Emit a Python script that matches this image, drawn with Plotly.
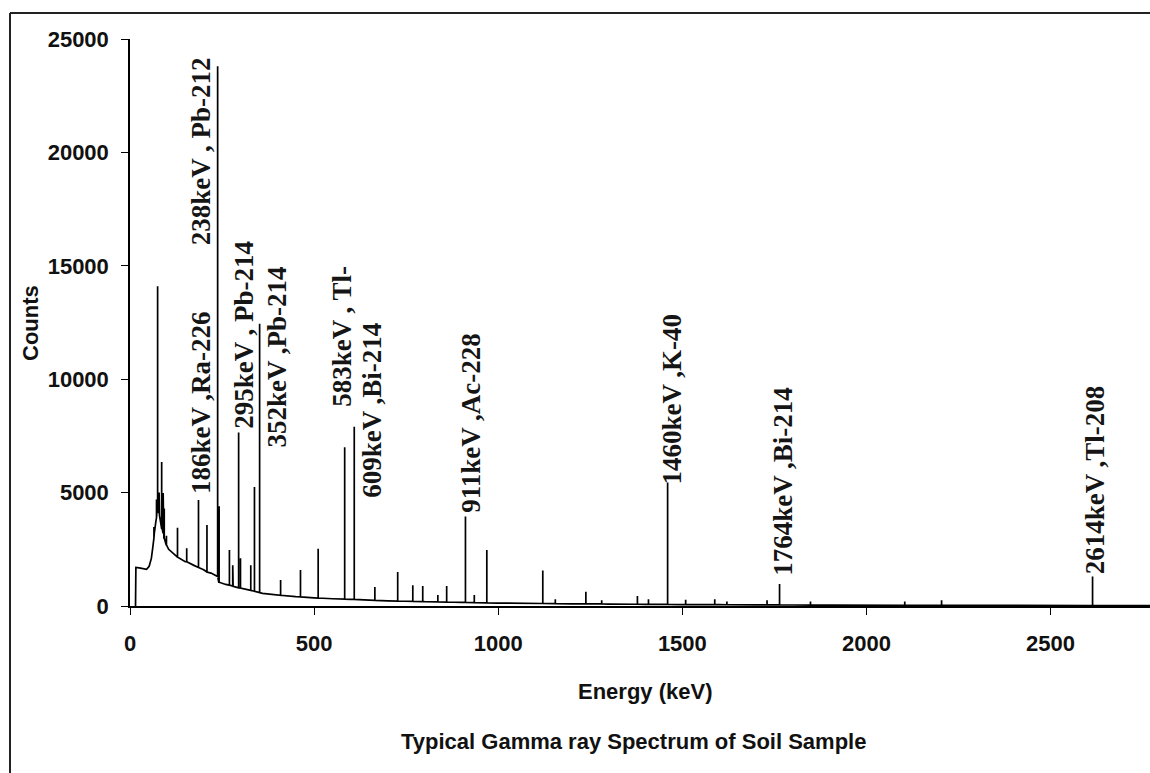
import plotly.graph_objects as go

# ---------------- data ----------------
# smooth continuum of the spectrum (energy keV, counts)
cont_energy = [15, 16, 25, 35, 45, 52, 58, 62, 66, 70, 74, 80, 86, 92, 98, 105, 115, 130,
               150, 175, 200, 220, 236, 241, 260, 280, 300, 325, 350, 360, 400, 450, 500,
               550, 600, 650, 700, 800, 900, 1000, 1100, 1200, 1300, 1400, 1500, 1600,
               1700, 1800, 1900, 2000, 2200, 2400, 2600, 2770]
cont_counts = [0, 1700, 1680, 1650, 1620, 1750, 2100, 2600, 3200, 3700, 4300, 4000, 3400,
               3000, 2700, 2500, 2350, 2150, 1950, 1780, 1600, 1450, 1300, 1050, 950, 870,
               790, 700, 600, 560, 480, 410, 360, 320, 290, 260, 230, 190, 160, 130, 110,
               95, 85, 75, 65, 57, 50, 44, 40, 36, 30, 25, 20, 15]

# peaks: energy (keV), top counts, counts of the continuum under the peak
peak_energy = [65, 72, 75, 79, 86, 90, 93, 99, 129, 154, 186, 209, 238, 242, 270, 279,
               295, 300, 328, 338, 352, 409, 463, 511, 583, 609, 665, 727, 768, 795, 836,
               860, 911, 935, 969, 1121, 1155, 1238, 1281, 1378, 1408, 1460, 1509, 1588,
               1621, 1730, 1764, 1848, 2104, 2204, 2614]
peak_top = [3480, 4700, 14100, 5000, 6350, 4980, 4300, 3100, 3450, 2550, 4670, 3570, 23800,
            4400, 2470, 1800, 7650, 2100, 1800, 5250, 12450, 1150, 1590, 2520, 7000, 7900,
            840, 1500, 920, 880, 480, 880, 3950, 480, 2470, 1560, 300, 630, 250, 440, 300,
            5450, 280, 300, 200, 250, 970, 200, 200, 250, 1300]
peak_base = [3000, 3900, 4200, 4100, 3500, 3200, 3000, 2700, 2150, 1950, 1700, 1500, 1300,
             1050, 920, 880, 800, 790, 690, 650, 590, 470, 400, 350, 300, 290, 250, 220,
             200, 195, 180, 175, 160, 150, 140, 110, 105, 95, 90, 77, 74, 70, 64, 58, 55,
             48, 46, 42, 33, 30, 20]

# peak labels
label_text = ["238keV , Pb-212", "186keV ,Ra-226", "295keV , Pb-214", "352keV ,Pb-214",
              "583keV , Tl-", "609keV ,Bi-214", "911keV ,Ac-228", "1460keV ,K-40",
              "1764keV ,Bi-214", "2614keV ,Tl-208"]
# label centre positions (energy keV, counts)
label_x = [193, 193, 309, 399, 575, 657, 926, 1471, 1773, 2619]
label_y = [20050, 8950, 11950, 11000, 11900, 8650, 8080, 9130, 5520, 5560]

x_ticks = [0, 500, 1000, 1500, 2000, 2500]
y_ticks = [0, 5000, 10000, 15000, 20000, 25000]
y_tick_text = ["0", "5000", "10000", "15000", "20000", "25000"]

# ---------------- build the line ----------------
pts = []
for e, c in zip(cont_energy, cont_counts):
    pts.append((e, 0, 0, c))
for i, (e, t, b) in enumerate(zip(peak_energy, peak_top, peak_base)):
    pts.append((e, 1 + i, 0, b))
    pts.append((e, 1 + i, 1, t))
    pts.append((e, 1 + i, 2, b))
pts.sort(key=lambda p: (p[0], p[1], p[2]))
xs = [p[0] for p in pts]
ys = [p[3] for p in pts]

fig = go.Figure()
fig.add_trace(go.Scatter(x=xs, y=ys, mode="lines",
                         line=dict(color="black", width=1.7), hoverinfo="skip",
                         showlegend=False))

W, H = 1150, 773
L, R, T, B = 130, 0, 39, 167
pw, ph = W - L - R, H - T - B

def px(xpix):
    return (xpix - L) / pw

def py(ypix):
    return (H - B - ypix) / ph

sans = "Liberation Sans, Arial, sans-serif"
serif = "Liberation Serif, Times New Roman, serif"

annotations = []
for t, lx, ly in zip(label_text, label_x, label_y):
    annotations.append(dict(x=lx, y=ly, xref="x", yref="y", text=t, textangle=-90,
                            showarrow=False, xanchor="center", yanchor="middle",
                            font=dict(family=serif, size=27, color="#151515", weight="bold")))
annotations.append(dict(x=px(30), y=py(323), xref="paper", yref="paper", text="Counts",
                        textangle=-90, showarrow=False, xanchor="center", yanchor="middle",
                        font=dict(family=sans, size=22, color="#111", weight="bold")))
annotations.append(dict(x=px(645), y=py(691), xref="paper", yref="paper", text="Energy (keV)",
                        showarrow=False, xanchor="center", yanchor="middle",
                        font=dict(family=sans, size=22, color="#111", weight="bold")))
annotations.append(dict(x=px(633), y=py(741), xref="paper", yref="paper",
                        text="Typical Gamma ray Spectrum of Soil Sample", showarrow=False,
                        xanchor="center", yanchor="middle",
                        font=dict(family=sans, size=22, color="#111", weight="bold")))

frame = dict(color="#222", width=2)
fig.update_layout(
    width=W, height=H,
    margin=dict(l=L, r=R, t=T, b=B),
    paper_bgcolor="white", plot_bgcolor="white",
    showlegend=False,
    annotations=annotations,
    shapes=[
        dict(type="line", xref="paper", yref="paper", x0=px(10), x1=px(1300),
             y0=py(13), y1=py(13), line=frame),
        dict(type="line", xref="paper", yref="paper", x0=px(10), x1=px(10),
             y0=py(13), y1=py(900), line=frame),
    ],
    xaxis=dict(range=[0, 2770], tickvals=x_ticks, showline=True, linecolor="black",
               linewidth=1.5, ticks="outside", ticklen=7, tickcolor="black", showgrid=False,
               zeroline=False, ticklabelstandoff=10,
               tickfont=dict(family=sans, size=22, color="#111", weight="bold")),
    yaxis=dict(range=[0, 25000], tickvals=y_ticks, ticktext=y_tick_text, showline=True,
               linecolor="black", linewidth=1.5, ticks="outside", ticklen=7,
               tickcolor="black", showgrid=False, zeroline=False, ticklabelstandoff=8,
               tickfont=dict(family=sans, size=22, color="#111", weight="bold")),
)

fig.write_html("out.html", config={"displayModeBar": False},
               post_script="document.body.style.margin='0';document.body.style.overflow='hidden';")
